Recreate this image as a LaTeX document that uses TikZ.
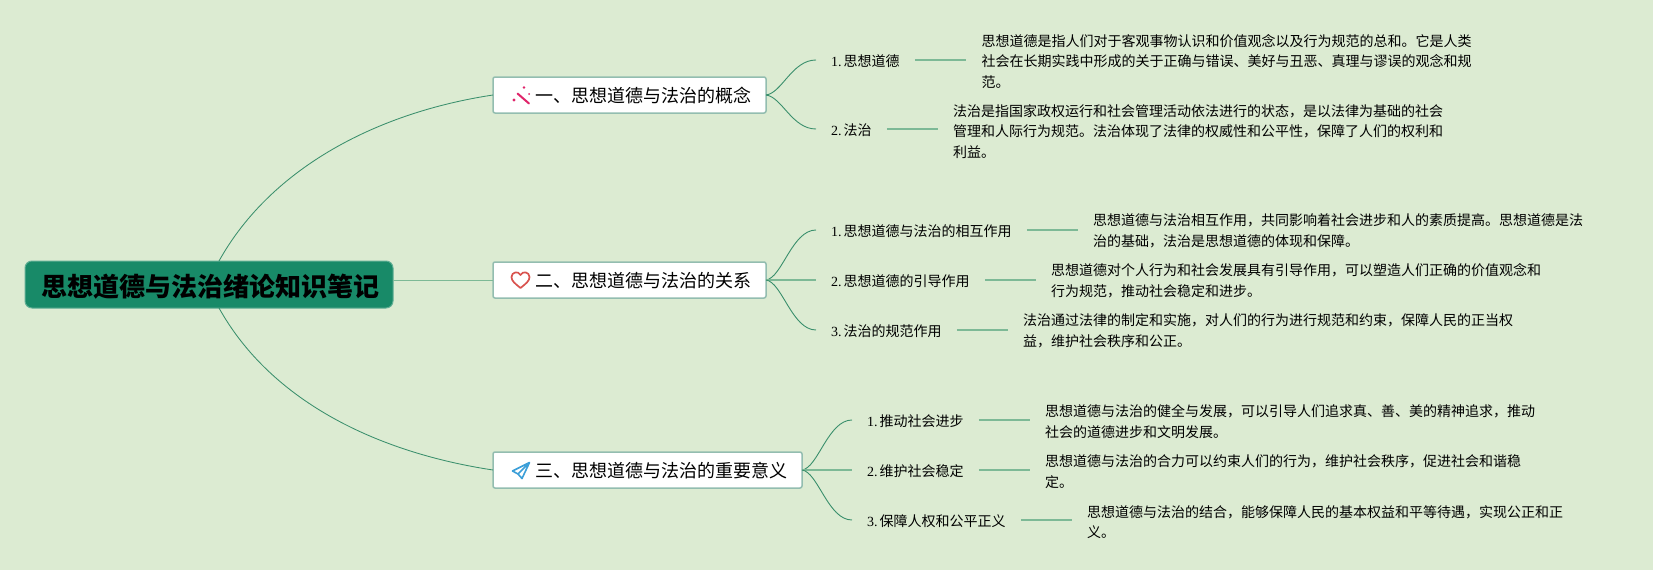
\documentclass[tikz,border=0pt]{standalone}
\usepackage{fontspec}
\usetikzlibrary{calc}
\setmainfont{Liberation Serif}
\newfontfamily\cjk{Noto Sans CJK SC}
\definecolor{bgc}{HTML}{DCEBD2}
\definecolor{rootc}{HTML}{188A68}
\definecolor{rootb}{HTML}{5FAE94}
\definecolor{boxb}{HTML}{93BDB0}
\definecolor{curvec}{HTML}{3A8F6C}
\definecolor{linec}{HTML}{7DB996}
\definecolor{pinkc}{HTML}{E0246A}
\definecolor{redc}{HTML}{D9534F}
\definecolor{bluec}{HTML}{3C9FD8}
\tikzset{
 rootnode/.style={draw=rootb,line width=1pt,fill=rootc,rounded corners=7pt,outer sep=0pt,minimum width=368pt,minimum height=47pt,inner sep=0pt},
 topicnode/.style={draw=boxb,line width=1.5pt,fill=white,rounded corners=2pt,outer sep=0pt,anchor=north west,minimum height=36pt,inner sep=0pt},
 topictext/.style={font=\fontsize{18}{22}\selectfont\cjk,inner sep=0pt,anchor=west},
 labelnode/.style={anchor=west,inner ysep=0pt,inner xsep=15pt,text height=13pt,text depth=0.4pt,font=\fontsize{14}{20.5}\selectfont},
 descnode/.style={anchor=west,align=left,inner ysep=0pt,inner xsep=15.5pt,font=\fontsize{14}{20.5}\selectfont\cjk},
 curve/.style={draw=curvec,line width=0.9pt},
 straight/.style={draw=linec,line width=1.4pt},
 rootlink/.style={draw=curvec,line width=0.85pt},
}
\newcommand{\lab}[2]{{\rmfamily #1.}\hspace{2pt}{\cjk #2}}
\begin{document}
\begin{tikzpicture}[x=1pt,y=-1pt]
\useasboundingbox[fill=bgc] (0,0) rectangle (1653,570);
\node[rootnode] (root) at (209,284.5) {};
\node[font=\fontsize{26}{30}\selectfont\cjk\bfseries,inner sep=0pt,text=black] (roott) at (210,287) {思想道德与法治绪论知识笔记};
\node[topicnode,minimum width=273pt] (b1) at (493,77) {};
\node[topicnode,minimum width=273pt] (b2) at (493,262) {};
\node[topicnode,minimum width=309pt] (b3) at (493,452) {};
\node[topictext] (t1) at (535,96) {一、思想道德与法治的概念};
\node[topictext] (t2) at (535,281) {二、思想道德与法治的关系};
\node[topictext] (t3) at (535,471) {三、思想道德与法治的重要意义};
% icons
\fill[pinkc] (514,100) circle (1.6) (524,87.5) circle (1.3) (529,94) circle (1);
\draw[pinkc,line width=2pt,line cap=round] (517.5,93.5) -- (529,103.5);
\draw[redc,line width=1.7pt,line join=round] (520.5,288) .. controls (515,283.5) and (511.5,281) .. (511.5,277) .. controls (511.5,272) and (518.5,270.5) .. (520.5,275) .. controls (522.5,270.5) and (529.5,272) .. (529.5,277) .. controls (529.5,281) and (526,283.5) .. (520.5,288) -- cycle;
\draw[bluec,line width=1.6pt,line join=round] (529.5,462.5) -- (512.5,471) -- (518,474) -- (522,478.5) -- cycle (529.5,462.5) -- (518,474);
% root links
\draw[rootlink] ($(root.north west)+(194,0)$) .. controls (272,166) and (380,112) .. (b1.west);
\draw[rootlink] ($(root.south west)+(194,0)$) .. controls (272,403) and (380,453) .. (b3.west);
\draw[rootlink,line width=1pt,draw=linec] (root.east |- b2.west) -- (b2.west);
% labels and descriptions
\node[labelnode] (l11) at (816,60) {\lab{1}{思想道德}};
\node[labelnode] (l12) at (816,129) {\lab{2}{法治}};
\node[labelnode] (l21) at (816,230) {\lab{1}{思想道德与法治的相互作用}};
\node[labelnode] (l22) at (816,280) {\lab{2}{思想道德的引导作用}};
\node[labelnode] (l23) at (816,330) {\lab{3}{法治的规范作用}};
\node[labelnode] (l31) at (852,420) {\lab{1}{推动社会进步}};
\node[labelnode] (l32) at (852,470) {\lab{2}{维护社会稳定}};
\node[labelnode] (l33) at (852,520) {\lab{3}{保障人权和公平正义}};
\node[descnode] (d11) at (966,61.5) {思想道德是指人们对于客观事物认识和价值观念以及行为规范的总和。它是人类\\社会在长期实践中形成的关于正确与错误、美好与丑恶、真理与谬误的观念和规\\范。};
\node[descnode] (d12) at (937.5,131.5) {法治是指国家政权运行和社会管理活动依法进行的状态，是以法律为基础的社会\\管理和人际行为规范。法治体现了法律的权威性和公平性，保障了人们的权利和\\利益。};
\node[descnode] (d21) at (1077.5,231) {思想道德与法治相互作用，共同影响着社会进步和人的素质提高。思想道德是法\\治的基础，法治是思想道德的体现和保障。};
\node[descnode] (d22) at (1035.5,280.5) {思想道德对个人行为和社会发展具有引导作用，可以塑造人们正确的价值观念和\\行为规范，推动社会稳定和进步。};
\node[descnode] (d23) at (1007.5,331) {法治通过法律的制定和实施，对人们的行为进行规范和约束，保障人民的正当权\\益，维护社会秩序和公正。};
\node[descnode] (d31) at (1029.5,421.5) {思想道德与法治的健全与发展，可以引导人们追求真、善、美的精神追求，推动\\社会的道德进步和文明发展。};
\node[descnode] (d32) at (1029.5,471.5) {思想道德与法治的合力可以约束人们的行为，维护社会秩序，促进社会和谐稳\\定。};
\node[descnode] (d33) at (1071.5,522) {思想道德与法治的结合，能够保障人民的基本权益和平等待遇，实现公正和正\\义。};
% branches
\draw[curve] (b1.east) .. controls (782,93) and (792,60) .. (l11.west);
\draw[curve] (b1.east) .. controls (782,97) and (792,129) .. (l12.west);
\draw[curve] (b2.east) .. controls (782,278) and (792,230) .. (l21.west);
\draw[straight] (b2.east) -- (l22.west);
\draw[curve] (b2.east) .. controls (782,282) and (792,330) .. (l23.west);
\draw[curve] (b3.east) .. controls (818,468) and (828,420) .. (l31.west);
\draw[straight] (b3.east) -- (l32.west);
\draw[curve] (b3.east) .. controls (818,472) and (828,520) .. (l33.west);
% leaders
\foreach \a/\b in {l11/d11,l12/d12,l21/d21,l22/d22,l23/d23,l31/d31,l32/d32,l33/d33}
  \draw[straight] (\a.east) -- (\a.east -| \b.west);
\end{tikzpicture}
\end{document}
